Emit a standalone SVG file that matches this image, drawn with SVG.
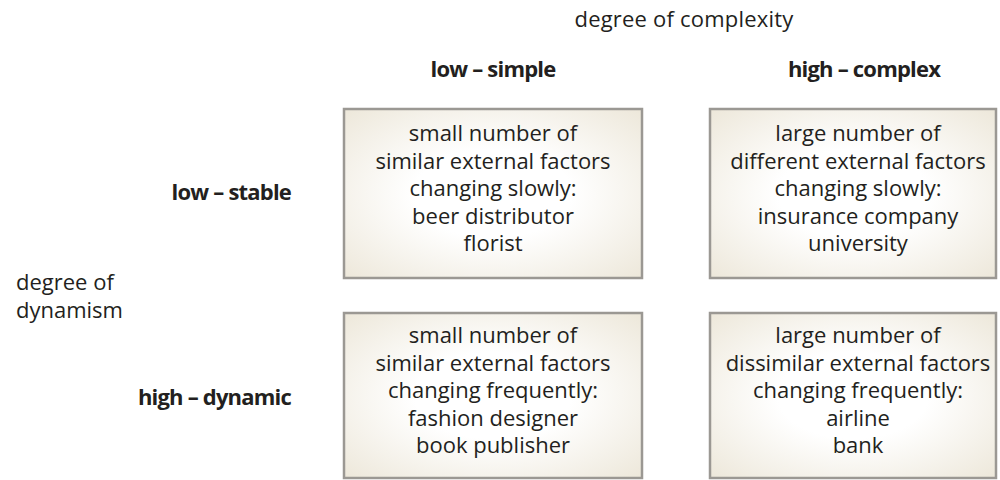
<svg xmlns="http://www.w3.org/2000/svg" width="1000" height="480" viewBox="0 0 1000 480">
<style>
text{font-family:"Open Sans","Noto Sans","Liberation Sans",sans-serif;fill:#231f20;font-size:22px}
.box{fill:url(#g);stroke:#9b9893;stroke-width:2.5}
.bt{text-anchor:middle}
.hd{font-weight:bold;letter-spacing:-0.8px}
</style>
<defs>
<radialGradient id="g" cx="0.5" cy="0.5" r="0.75">
<stop offset="0.35" stop-color="#ffffff"/>
<stop offset="1" stop-color="#ebe5d6"/>
</radialGradient>
</defs>
<g id="axis-complexity"><text x="684" y="27" text-anchor="middle" letter-spacing="0.2">degree of complexity</text></g>
<g id="col-low"><text class="hd" x="493" y="77" text-anchor="middle">low – simple</text></g>
<g id="col-high"><text class="hd" x="864" y="77" text-anchor="middle">high – complex</text></g>
<g id="row-low"><text class="hd" x="291" y="200" text-anchor="end" letter-spacing="-0.3">low – stable</text></g>
<g id="row-high"><text class="hd" x="291" y="405" text-anchor="end" letter-spacing="-0.5">high – dynamic</text></g>
<g id="axis-dynamism"><text x="16" y="290">degree of</text><text x="16" y="318">dynamism</text></g>
<g id="box-ll">
<rect class="box" x="344" y="109" width="298" height="169"/>
<text class="bt"><tspan x="493" y="141">small number of</tspan><tspan x="493" y="168.5">similar external factors</tspan><tspan x="493" y="196">changing slowly:</tspan><tspan x="493" y="223.5">beer distributor</tspan><tspan x="493" y="251">florist</tspan></text>
</g>
<g id="box-hl">
<rect class="box" x="710" y="109" width="286" height="169"/>
<text class="bt"><tspan x="858" y="141">large number of</tspan><tspan x="858" y="168.5">different external factors</tspan><tspan x="858" y="196">changing slowly:</tspan><tspan x="858" y="223.5">insurance company</tspan><tspan x="858" y="251">university</tspan></text>
</g>
<g id="box-lh">
<rect class="box" x="344" y="313" width="298" height="165"/>
<text class="bt"><tspan x="493" y="343">small number of</tspan><tspan x="493" y="370.5">similar external factors</tspan><tspan x="493" y="398">changing frequently:</tspan><tspan x="493" y="425.5">fashion designer</tspan><tspan x="493" y="453">book publisher</tspan></text>
</g>
<g id="box-hh">
<rect class="box" x="710" y="313" width="286" height="165"/>
<text class="bt"><tspan x="858" y="343">large number of</tspan><tspan x="858" y="370.5">dissimilar external factors</tspan><tspan x="858" y="398">changing frequently:</tspan><tspan x="858" y="425.5">airline</tspan><tspan x="858" y="453">bank</tspan></text>
</g>
<g id="connectors"></g>
</svg>
